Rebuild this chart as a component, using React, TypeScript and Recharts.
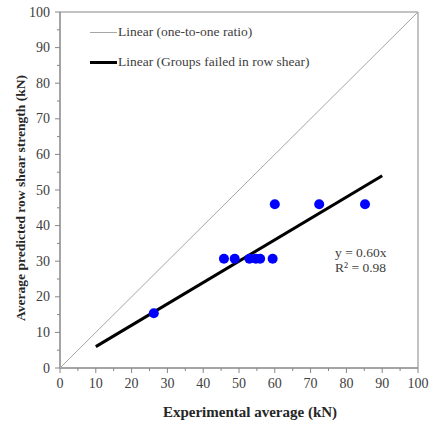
import {
  ScatterChart,
  Scatter,
  XAxis,
  YAxis,
  ReferenceArea,
  Legend,
} from "recharts";

// measured points (experimental average vs predicted average, kN)
const EXP_AVG = [26.2, 45.8, 48.8, 52.9, 54.7, 55.9, 59.4, 60, 72.4, 85.2];
const PRED_AVG = [15.4, 30.7, 30.7, 30.7, 30.7, 30.7, 30.7, 46, 46, 46];

// one-to-one reference line
const ONE_X = [0, 100];
const ONE_Y = [0, 100];

// linear fit through origin, y = 0.60x
const FIT_X = [10, 90];
const FIT_Y = [6, 54];

const TICKS = [0, 5, 10, 15, 20, 25, 30, 35, 40, 45, 50, 55, 60, 65, 70, 75, 80, 85, 90, 95, 100];

const LEGEND_ITEMS = [
  { name: "Linear (one-to-one ratio)", color: "#a6a6a6", width: 1 },
  { name: "Linear (Groups failed in row shear)", color: "#000000", width: 3 },
];

const FONT = "Liberation Serif, Times New Roman, serif";
const AXIS_COLOR = "#868686";
const TEXT_COLOR = "#404040";

const points = EXP_AVG.map((x, i) => ({ x, y: PRED_AVG[i] }));
const oneToOne = ONE_X.map((x, i) => ({ x, y: ONE_Y[i] }));
const fitLine = FIT_X.map((x, i) => ({ x, y: FIT_Y[i] }));

// tickSize 5 + tickMargin 3 -> label anchor sits 8px off the axis line
const XTick = (props: any) => {
  const { x, y, payload } = props;
  const axisY = y - 8;
  const major = payload.value % 10 === 0;
  return (
    <g>
      <line x1={x} x2={x} y1={axisY} y2={axisY + (major ? 5 : 3)} stroke={AXIS_COLOR} />
      {major && (
        <text x={x} y={axisY + 20} textAnchor="middle" style={{ fontFamily: FONT, fontSize: 14 }} fill={TEXT_COLOR}>
          {payload.value}
        </text>
      )}
    </g>
  );
};

const YTick = (props: any) => {
  const { x, y, payload } = props;
  const axisX = x + 8;
  const major = payload.value % 10 === 0;
  return (
    <g>
      <line x1={axisX - (major ? 5 : 3)} x2={axisX} y1={y} y2={y} stroke={AXIS_COLOR} />
      {major && (
        <text x={axisX - 10} y={y + 4.5} textAnchor="end" style={{ fontFamily: FONT, fontSize: 14 }} fill={TEXT_COLOR}>
          {payload.value}
        </text>
      )}
    </g>
  );
};

const ChartLegend = () => (
  <div style={{ fontFamily: FONT, fontSize: 13.5, color: TEXT_COLOR }}>
    {LEGEND_ITEMS.map((item) => (
      <div key={item.name} style={{ display: "flex", alignItems: "center", height: 30 }}>
        <span
          style={{
            display: "inline-block",
            width: 27,
            height: item.width,
            background: item.color,
            marginRight: 1,
          }}
        />
        <span>{item.name}</span>
      </div>
    ))}
  </div>
);

const hidden = () => <g />;

export default function App() {
  return (
    <div style={{ position: "absolute", left: 0, top: 0, width: 431, height: 425, background: "#fff", fontFamily: FONT }}>
      <ScatterChart width={431} height={425} margin={{ top: 12, right: 13, bottom: 0, left: 0 }}>
        <XAxis
          type="number"
          dataKey="x"
          domain={[0, 100]}
          ticks={TICKS}
          interval={0}
          height={57}
          stroke={AXIS_COLOR}
          tickSize={5}
          tickMargin={3}
          tickLine={{ stroke: "transparent" }}
          tick={<XTick />}
          label={{
            content: ({ viewBox }: any) => (
              <text
                x={viewBox.x + viewBox.width / 2 + 11}
                y={417}
                textAnchor="middle"
                style={{ fontFamily: FONT, fontSize: 15, fontWeight: "bold" }}
                fill="#262626"
              >
                Experimental average (kN)
              </text>
            ),
          }}
        />
        <YAxis
          type="number"
          dataKey="y"
          domain={[0, 100]}
          ticks={TICKS}
          interval={0}
          width={60}
          stroke={AXIS_COLOR}
          tickSize={5}
          tickMargin={3}
          tickLine={{ stroke: "transparent" }}
          tick={<YTick />}
          label={{
            content: ({ viewBox }: any) => {
              const cy = viewBox.y + viewBox.height / 2 + 8;
              return (
                <text
                  x={25}
                  y={cy}
                  transform={`rotate(-90, 25, ${cy})`}
                  textAnchor="middle"
                  style={{ fontFamily: FONT, fontSize: 13.5, fontWeight: "bold" }}
                  fill="#262626"
                >
                  Average predicted row shear strength (kN)
                </text>
              );
            },
          }}
        />
        {/* plot frame on top and right */}
        <ReferenceArea x1={0} x2={100} y1={0} y2={100} fill="none" stroke={AXIS_COLOR} strokeWidth={1} />
        <Legend
          layout="horizontal"
          verticalAlign="middle"
          align="center"
          content={<ChartLegend />}
          wrapperStyle={{ position: "absolute", left: 90, top: 17, width: "auto" }}
        />
        <Scatter
          name="Linear (one-to-one ratio)"
          data={oneToOne}
          line={{ stroke: "#a6a6a6", strokeWidth: 1 }}
          shape={hidden}
          legendType="none"
          isAnimationActive={false}
        />
        <Scatter
          name="Linear (Groups failed in row shear)"
          data={fitLine}
          line={{ stroke: "#000000", strokeWidth: 3 }}
          shape={hidden}
          legendType="none"
          isAnimationActive={false}
        />
        <Scatter
          name="Groups failed in row shear"
          data={points}
          fill="#0000ff"
          shape={(p: any) => <circle cx={p.cx} cy={p.cy} r={5} fill="#0000ff" />}
          legendType="none"
          isAnimationActive={false}
        />
      </ScatterChart>
      <div
        style={{
          position: "absolute",
          left: 335,
          top: 245,
          fontFamily: FONT,
          fontSize: 13.5,
          lineHeight: "15px",
          color: TEXT_COLOR,
        }}
      >
        <div>y = 0.60x</div>
        <div>R² = 0.98</div>
      </div>
    </div>
  );
}
